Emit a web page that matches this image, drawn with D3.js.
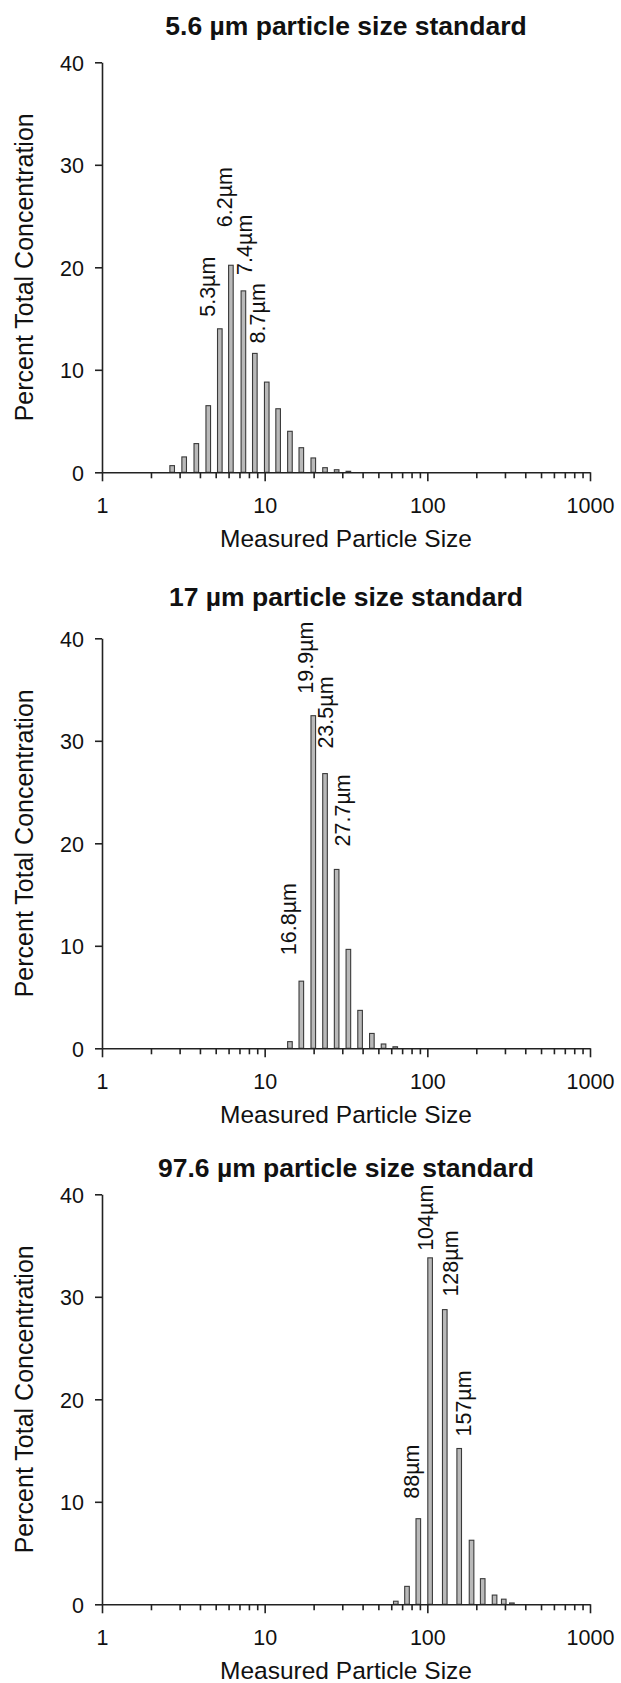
<!DOCTYPE html>
<html>
<head>
<meta charset="utf-8">
<script src="https://cdn.jsdelivr.net/npm/d3@7"></script>
<style>
  body { margin: 0; background: #fff; }
  svg text { font-family: "Liberation Sans", Arial, sans-serif; fill: #111; }
</style>
</head>
<body>
<div id="chart"></div>
<script>
// bin centres (µm) and percent of total concentration
const sizes1 = [2.7, 3.2, 3.8, 4.5, 5.3, 6.2, 7.4, 8.7, 10.3, 12.1, 14.3, 16.8, 19.9, 23.5, 27.7, 32.7];
const pct1 = [0.65, 1.5, 2.8, 6.5, 14.0, 20.2, 17.7, 11.6, 8.8, 6.2, 4.0, 2.4, 1.4, 0.45, 0.25, 0.1];

const sizes2 = [14.3, 16.8, 19.9, 23.5, 27.7, 32.7, 38.6, 45.6, 53.8, 63.5];
const pct2 = [0.65, 6.55, 32.45, 26.8, 17.45, 9.65, 3.7, 1.45, 0.42, 0.15];

const sizes3 = [64, 75, 88, 104, 128, 157, 187, 219, 259, 295, 331];
const pct3 = [0.3, 1.75, 8.35, 33.8, 28.75, 15.2, 6.25, 2.5, 0.9, 0.5, 0.13];

const titles = ['5.6 µm particle size standard', '17 µm particle size standard', '97.6 µm particle size standard'];
const labels1 = [5.3, 6.2, 7.4, 8.7];
const labels2 = [16.8, 19.9, 23.5, 27.7];
const labels3 = [88, 104, 128, 157];

const yTicks = [0, 10, 20, 30, 40];
const xMajor = [1, 10, 100, 1000];

const width = 621;
const height = 1683;
const left = 102, right = 590, plotH = 410;

const panels = [
  {sizes: sizes1, pct: pct1, labels: labels1, title: titles[0], top: 62.3, titleY: 35,
   nudge: [[-5, 12], [1, 38], [9, 16], [10, 10]]},
  {sizes: sizes2, pct: pct2, labels: labels2, title: titles[1], top: 638.3, titleY: 605.7,
   nudge: [[-5, 26], [0, 22], [7.5, 25], [13, 23]]},
  {sizes: sizes3, pct: pct3, labels: labels3, title: titles[2], top: 1194.3, titleY: 1177.3,
   nudge: [[1, 20], [3, 7], [13, 13], [12, 12]]}
];

const svg = d3.select('#chart')
  .append('svg')
  .attr('width', width)
  .attr('height', height);

const x = d3.scaleLog().domain([1, 1000]).range([left, right]);

// all log ticks 1..1000
const xAll = [];
xMajor.slice(0, 3).forEach(p => d3.range(1, 10).forEach(k => xAll.push(p * k)));
xAll.push(1000);

panels.forEach(p => {
  const y = d3.scaleLinear().domain([0, 40]).range([p.top + plotH, p.top]);
  const g = svg.append('g');

  //Title
  g.append('text')
    .attr('x', (left + right) / 2)
    .attr('y', p.titleY)
    .attr('text-anchor', 'middle')
    .style('font-weight', 'bold')
    .style('font-size', '26.5px')
    .text(p.title);

  //Bars
  const bw = 4.6;
  g.selectAll('rect')
    .data(p.sizes.map((s, i) => ({s, v: p.pct[i]})))
    .enter()
    .append('rect')
    .attr('x', d => x(d.s) - bw / 2)
    .attr('y', d => y(d.v))
    .attr('width', bw)
    .attr('height', d => y(0) - y(d.v))
    .attr('fill', '#b9b9b9')
    .attr('stroke', '#3a3a3a')
    .attr('stroke-width', 1.1);

  //Peak labels
  p.labels.forEach((s, i) => {
    const v = p.pct[p.sizes.indexOf(s)];
    const [dx, gap] = p.nudge[i];
    g.append('text')
      .attr('transform', `translate(${x(s) + dx},${y(v) - gap}) rotate(-90)`)
      .style('font-size', '21.5px')
      .text(s + 'µm');
  });

  //Axes
  const xAxis = d3.axisBottom(x)
    .tickValues(xAll)
    .tickSizeOuter(0)
    .tickFormat(d => xMajor.includes(d) ? d : '');
  const gx = g.append('g')
    .attr('transform', `translate(0,${y(0)})`)
    .call(xAxis);
  gx.selectAll('.tick line')
    .attr('y2', d => xMajor.includes(d) ? 9 : 6);
  gx.selectAll('.tick text')
    .attr('y', 41).attr('dy', 0)
    .style('font-size', '21.5px');

  const yAxis = d3.axisLeft(y)
    .tickValues(yTicks)
    .tickSize(7)
    .tickSizeOuter(0)
    .tickPadding(11);
  const gy = g.append('g')
    .attr('transform', `translate(${left},0)`)
    .call(yAxis);
  gy.selectAll('.tick text')
    .attr('dy', '0.36em')
    .style('font-size', '21.5px');

  g.selectAll('.domain, .tick line')
    .attr('stroke', '#222')
    .attr('stroke-width', 1.6);
  g.selectAll('.tick text').attr('fill', '#111').style('font-family', '"Liberation Sans", Arial, sans-serif');

  //Axis titles
  g.append('text')
    .attr('x', (left + right) / 2)
    .attr('y', y(0) + 75)
    .attr('text-anchor', 'middle')
    .style('font-size', '24.5px')
    .text('Measured Particle Size');

  g.append('text')
    .attr('transform', `translate(33,${p.top + plotH / 2}) rotate(-90)`)
    .attr('text-anchor', 'middle')
    .style('font-size', '25px')
    .text('Percent Total Concentration');
});
</script>
</body>
</html>
